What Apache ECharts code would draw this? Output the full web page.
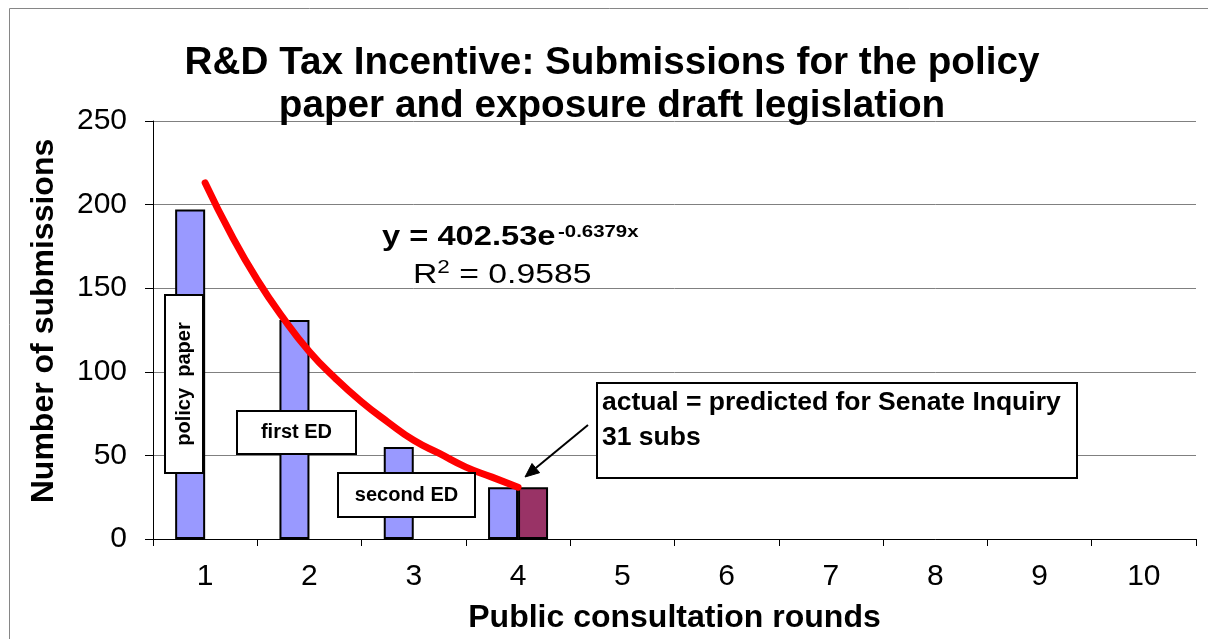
<!DOCTYPE html>
<html>
<head>
<meta charset="utf-8">
<script src="https://cdn.jsdelivr.net/npm/echarts@6/dist/echarts.min.js"></script>
<style>
html,body{margin:0;padding:0;background:#fff;}
#chart{width:1208px;height:639px;}
</style>
</head>
<body>
<div id="chart"></div>
<script>
// ---- data ----
const categories = ['1', '2', '3', '4', '5', '6', '7', '8', '9', '10'];
const submissions = [197, 131, 55, 31, '-', '-', '-', '-', '-', '-'];
const senateInquiry = ['-', '-', '-', 31, '-', '-', '-', '-', '-', '-'];
const trendX = [1, 1.25, 1.5, 1.75, 2, 2.25, 2.5, 2.75, 3, 3.25, 3.5, 3.75, 4];
const trendY = [213, 182, 155, 132, 112, 96, 82, 70, 59, 51, 43, 37, 31];
const yMin = 0, yMax = 250, yStep = 50;
const titleText = 'R&D Tax Incentive: Submissions for the policy\npaper and exposure draft legislation';
const equationMain = 'y = 402.53e';
const equationExp = '-0.6379x';
const rSquared = ' = 0.9585';
const calloutText = 'actual = predicted for Senate Inquiry\n31 subs';
const labelPolicy = 'policy  paper';
const labelFirst = 'first ED';
const labelSecond = 'second ED';

const FONT = "'Liberation Sans', Arial, sans-serif";
const chart = echarts.init(document.getElementById('chart'), null, {renderer: 'canvas'});

const trendData = trendX.map((x, i) => [x, trendY[i]]);

function boxLabel(cx, cy, w, h, text, rotate) {
  return {
    type: 'group', x: cx, y: cy, rotation: rotate ? Math.PI / 2 : 0,
    children: [
      {type: 'rect', z: 100, shape: {x: -w / 2, y: -h / 2, width: w, height: h},
       style: {fill: '#fff', stroke: '#000', lineWidth: 2}},
      {type: 'text', z: 101, x: 0, y: 0,
       style: {text: text, font: 'bold 20px ' + FONT, fill: '#000', align: 'center', verticalAlign: 'middle'}}
    ]
  };
}

const option = {
  backgroundColor: '#fff',
  animation: false,
  grid: {left: 153, right: 12, top: 121, bottom: 99, containLabel: false},
  xAxis: [
    {
      type: 'category', data: categories, boundaryGap: true,
      axisLine: {show: true, lineStyle: {color: '#000', width: 1}},
      axisTick: {show: true, length: 7, alignWithLabel: false, lineStyle: {color: '#000'}},
      axisLabel: {fontFamily: FONT, fontSize: 30, color: '#000', margin: 23},
      splitLine: {show: false},
      name: 'Public consultation rounds', nameLocation: 'middle', nameGap: 63, nameMoveOverlap: false,
      nameTextStyle: {fontFamily: FONT, fontSize: 32, fontWeight: 'bold', color: '#000'}
    },
    {
      type: 'value', min: 0.5, max: 10.5, show: false
    }
  ],
  yAxis: {
    type: 'value', min: yMin, max: yMax, interval: yStep,
    axisLine: {show: true, lineStyle: {color: '#000', width: 1}},
    axisTick: {show: true, inside: false, length: 8, lineStyle: {color: '#000'}},
    axisLabel: {fontFamily: FONT, fontSize: 30, color: '#000', margin: 26},
    splitLine: {show: true, lineStyle: {color: '#808080', width: 1}},
    name: 'Number of submissions', nameLocation: 'middle', nameGap: 93, nameMoveOverlap: false,
    nameTextStyle: {fontFamily: FONT, fontSize: 32, fontWeight: 'bold', color: '#000', padding: [0, 0, 0, 18]}
  },
  series: [
    {
      type: 'bar', name: 'Submissions', data: submissions, xAxisIndex: 0,
      barWidth: 30, barGap: '0%',
      itemStyle: {color: '#9999FF', borderColor: '#000', borderWidth: 2}
    },
    {
      type: 'bar', name: 'Senate Inquiry', data: senateInquiry, xAxisIndex: 0,
      barWidth: 30, barGap: '0%',
      itemStyle: {color: '#993366', borderColor: '#000', borderWidth: 2}
    },
    {
      type: 'line', name: 'Trend', data: trendData, xAxisIndex: 1, smooth: true,
      showSymbol: false, symbol: 'none', z: 10,
      lineStyle: {color: '#FF0000', width: 7, cap: 'round'}
    }
  ],
  graphic: [
    {type: 'rect', shape: {x: 9.5, y: 8.5, width: 1400, height: 800}, silent: true,
     style: {fill: 'none', stroke: '#868686', lineWidth: 1}, z: 0},
    {type: 'text', x: 612, y: 42, z: 100,
     style: {text: titleText, font: 'bold 38.7px ' + FONT, fill: '#000', align: 'center', verticalAlign: 'top', lineHeight: 43}},
    {type: 'text', x: 382, y: 238, z: 100, scaleX: 1.21, originX: 0, originY: 0,
     style: {text: equationMain, font: 'bold 27px ' + FONT, fill: '#000', align: 'left', verticalAlign: 'middle'}},
    {type: 'text', x: 558, y: 232, z: 100, scaleX: 1.2, originX: 0, originY: 0,
     style: {text: equationExp, font: 'bold 17px ' + FONT, fill: '#000', align: 'left', verticalAlign: 'middle'}},
    {type: 'text', x: 413, y: 274, z: 100, scaleX: 1.25, originX: 0, originY: 0,
     style: {text: '{r|R}{s|2}{r|' + rSquared + '}', fill: '#000', align: 'left', verticalAlign: 'middle',
       rich: {r: {font: '27px ' + FONT, fill: '#000', lineHeight: 30, verticalAlign: 'bottom'},
              s: {font: '18px ' + FONT, fill: '#000', lineHeight: 18, verticalAlign: 'top'}}}},
    boxLabel(184, 384, 178, 38, labelPolicy, true),
    boxLabel(296.5, 432.5, 119, 43, labelFirst, false),
    boxLabel(406.5, 495, 137, 44, labelSecond, false),
    {type: 'rect', shape: {x: 597, y: 383, width: 480, height: 95}, z: 100,
     style: {fill: '#fff', stroke: '#000', lineWidth: 2}},
    {type: 'text', x: 602, y: 385, z: 101,
     style: {text: calloutText, font: 'bold 26.5px ' + FONT, fill: '#000', align: 'left', verticalAlign: 'top', lineHeight: 35}},
    {type: 'line', shape: {x1: 588, y1: 425, x2: 535.8, y2: 468.1}, z: 100,
     style: {stroke: '#000', lineWidth: 2}},
    {type: 'polygon', shape: {points: [[525, 477], [539.6, 472.7], [532.0, 463.5]]}, z: 100,
     style: {fill: '#000', stroke: '#000', lineWidth: 1}}
  ]
};
chart.setOption(option);
</script>
</body>
</html>
